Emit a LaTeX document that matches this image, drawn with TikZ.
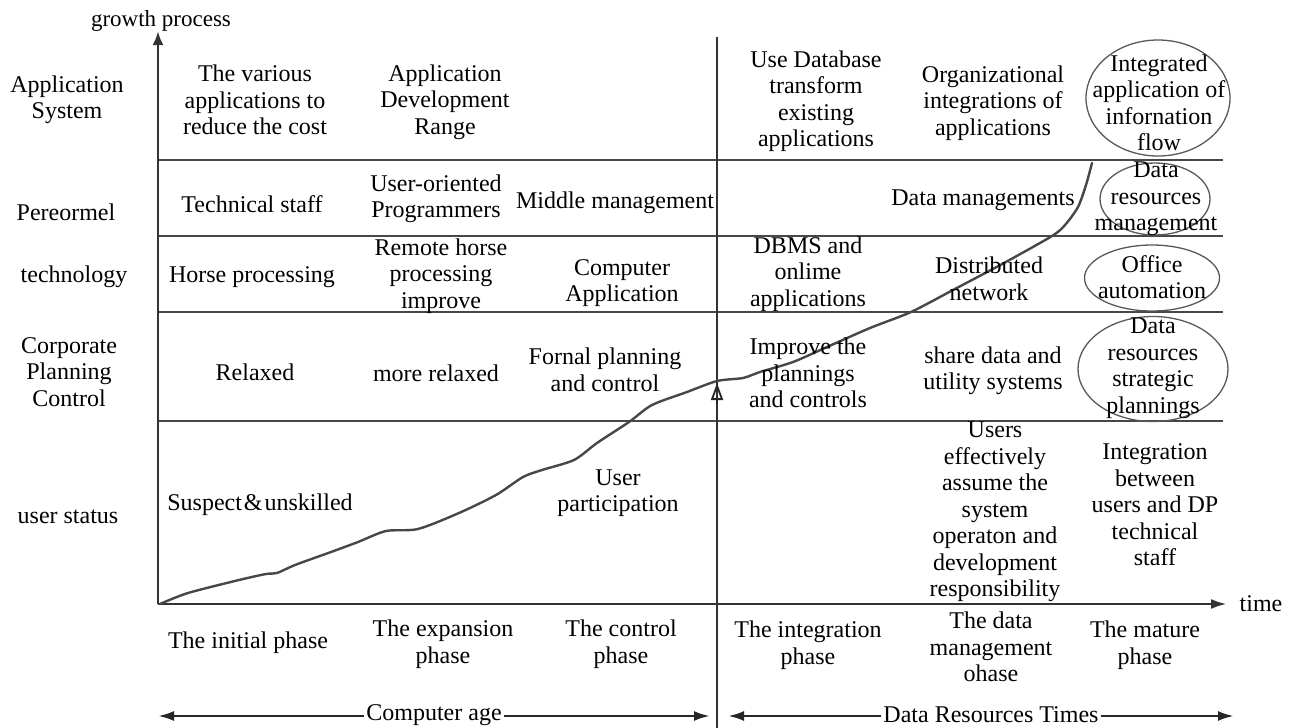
\documentclass[tikz,border=0pt]{standalone}
\usepackage{fontspec}
\setmainfont{Liberation Serif}
\usetikzlibrary{arrows.meta,shapes.geometric}
\begin{document}
\begin{tikzpicture}[x=1pt,y=-1pt,
  txt/.style={align=center,inner sep=0pt,font=\fontsize{24}{26.5}\selectfont},
  gridline/.style={line width=2.6pt,draw=black!72},
  axis/.style={line width=2.8pt,draw=black!80},
  oval/.style={draw=black!65,line width=1.3pt,ellipse,inner sep=0pt},
  growth/.style={line width=2.4pt,draw=black!72,line cap=round,line join=round},
  bigtip/.style={-{Latex[length=16pt,width=10pt]}}]
\useasboundingbox (0,0) rectangle (1296,728);
\fill[white] (0,0) rectangle (1296,728);

% coordinates of the frame
\coordinate (O) at (158,604);
\coordinate (Ytop) at (158,31);
\coordinate (Xend) at (1227,604);
\coordinate (Dtop) at (717,37);
\coordinate (Dbot) at (717,728);
\foreach \y/\n in {160/a,236/b,312/c,421/d}{
  \coordinate (L\n) at (158,\y);
  \coordinate (R\n) at (1223,\y);
}

% grid lines
\foreach \n in {a,b,c,d}{\draw[gridline] (L\n) -- (R\n);}
% divider
\draw[axis] (Dtop) -- (Dbot);
% axes
\draw[axis,-{Latex[length=14pt,width=11pt]}] (O) -- (Ytop);
\draw[axis,-{Latex[length=16pt,width=10pt]}] (O) -- (Xend);
\node[txt,font=\fontsize{23}{26}\selectfont,anchor=base] (gp) at (161,26) {growth process};
\node[txt] (time) at (1261,604) {time};

% growth curve
\draw[growth] plot[smooth,tension=0.45] coordinates {(160,604) (188,593) (239,580) (266,574) (277,573) (295,565) (331,552) (358,542) (386,531) (418,529) (459,513) (496,495) (523,477) (542,470) (574,460) (597,443) (629,422) (652,405) (687,392) (717,381) (743,378) (760,372) (793,362) (827,347) (870,328) (911,312) (953,290) (1004,263) (1052,236) (1065,225) (1078,207) (1086,185) (1092,163)};

% small open arrow on divider
\coordinate (tipA) at (717,383);
\coordinate (tipB) at (717,404);
\draw[line width=1.8pt,draw=black!85,-{Triangle[open,length=17pt,width=12pt]}] (tipB) -- (tipA);

% row labels
\node[txt] (r1) at (67,100) {Application\\System};
\node[txt] (r2) at (66,212) {Pereormel};
\node[txt] (r3) at (74,277) {technology};
\node[txt] (r4) at (69,372) {Corporate\\Planning\\Control};
\node[txt] (r5) at (68,517) {user status};

% application system row
\node[txt] (a1) at (255,100) {The various\\applications to\\reduce the cost};
\node[txt] (a2) at (445,102) {Application\\Development\\Range};
\node[txt] (a3) at (816,101) {Use Database\\transform\\existing\\applications};
\node[txt] (a4) at (993,103) {Organizational\\integrations of\\applications};
\node[oval,minimum width=144pt,minimum height=116pt] (e1) at (1158,98) {};
\node[txt] (a5) at (1159,103) {Integrated\\application of\\infornation\\flow};

% personnel row
\node[txt] (p1) at (252,204) {Technical staff};
\node[txt] (p2) at (436,199) {User-oriented\\Programmers};
\node[txt] (p3) at (615,203) {Middle management};
\node[txt] (p4) at (983,200) {Data managements};
\node[oval,minimum width=110pt,minimum height=72pt] (e2) at (1155,199) {};
\node[txt] (p5) at (1156,199) {Data\\resources\\management};

% technology row
\node[txt] (t1) at (252,277) {Horse processing};
\node[txt] (t2) at (441,276) {Remote horse\\processing\\improve};
\node[txt] (t3) at (622,283) {Computer\\Application};
\node[txt] (t4) at (808,274) {DBMS and\\onlime\\applications};
\node[txt] (t5) at (989,279) {Distributed\\network};
\node[oval,minimum width=135pt,minimum height=66pt] (e3) at (1152,278) {};
\node[txt] (t6) at (1152,277) {Office\\automation};

% corporate planning row
\node[txt] (c1) at (255,372) {Relaxed};
\node[txt] (c2) at (436,373) {more relaxed};
\node[txt] (c3) at (605,370) {Fornal planning\\and control};
\node[txt] (c4) at (808,373) {Improve the\\plannings\\and controls};
\node[txt] (c5) at (993,371) {share data and\\utility systems};
\node[oval,minimum width=150pt,minimum height=105pt] (e4) at (1153,369) {};
\node[txt] (c6) at (1153,368) {Data\\resources\\strategic\\plannings};

% user status row
\node[txt] (u1) at (260,505) {Suspect\hspace{2pt}\&\hspace{2pt}unskilled};
\node[txt] (u2) at (618,493) {User\\participation};
\node[txt] (u3) at (995,512) {Users\\effectively\\assume the\\system\\operaton and\\development\\responsibility};
\node[txt] (u4) at (1155,505) {Integration\\between\\users and DP\\technical\\staff};

% phases
\node[txt] (f1) at (248,643) {The initial phase};
\node[txt] (f2) at (443,644) {The expansion\\phase};
\node[txt] (f3) at (621,644) {The control\\phase};
\node[txt] (f4) at (808,645) {The integration\\phase};
\node[txt] (f5) at (991,647) {The data\\management\\ohase};
\node[txt] (f6) at (1145,645) {The mature\\phase};

% eras
\node[txt,inner xsep=2pt] (ca) at (434,715) {Computer age};
\coordinate (caL) at (158,716);
\coordinate (caR) at (710,716);
\draw[line width=2.6pt,draw=black!85,bigtip] (ca.west |- caL) -- (caL);
\draw[line width=2.6pt,draw=black!85,bigtip] (ca.east |- caR) -- (caR);
\node[txt,inner xsep=2pt] (dr) at (991,715) {Data Resources Times};
\coordinate (drL) at (728,716);
\coordinate (drR) at (1234,716);
\draw[line width=2.6pt,draw=black!85,bigtip] (dr.west |- drL) -- (drL);
\draw[line width=2.6pt,draw=black!85,bigtip] (dr.east |- drR) -- (drR);
\end{tikzpicture}
\end{document}
